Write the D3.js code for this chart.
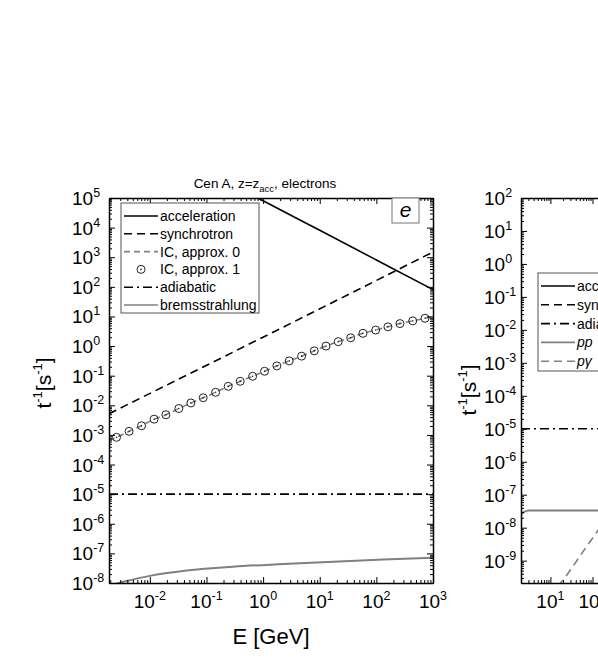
<!DOCTYPE html>
<html>
<head>
<meta charset="utf-8">
<script src="https://cdn.jsdelivr.net/npm/d3@7"></script>
<style>
  body { margin: 0; background: #fff; }
  text { font-family: "Liberation Sans", Arial, sans-serif; fill: #000; }
</style>
</head>
<body>
<svg id="chart" width="598" height="667"></svg>
<script>
// ---- left panel: Cen A electrons ----
const eTicksX = [1e-2, 1e-1, 1e0, 1e1, 1e2, 1e3];
const eTicksY = [1e-8, 1e-7, 1e-6, 1e-5, 1e-4, 1e-3, 1e-2, 1e-1, 1e0, 1e1, 1e2, 1e3, 1e4, 1e5];

const eAccE = [0.5, 1, 10, 100, 1000];
const eAccV = [1.6e5, 8.1e4, 8.1e3, 810, 81];

const eSynE = [0.0019, 1, 1000];
const eSynV = [5.2e-3, 2.0, 1.5e3];

// IC approx. 1 (circles)
const eIcE = [0.00258, 0.0043, 0.00713, 0.0119, 0.0192, 0.0325, 0.053, 0.0875, 0.145, 0.242,
  0.394, 0.653, 1.06, 1.75, 2.89, 4.79, 8.0, 12.9, 21.2, 35.2, 57.9, 97.3, 160, 261, 438, 723];
const eIcV = [8.3e-4, 1.32e-3, 2.04e-3, 3.4e-3, 4.8e-3, 7.8e-3, 0.012, 0.018, 0.0275, 0.0437,
  0.0646, 0.0955, 0.141, 0.214, 0.316, 0.457, 0.69, 1.0, 1.41, 1.9, 2.69, 3.47, 4.47, 5.75, 7.1, 8.7];

// IC approx. 0 (gray dashed, under the circles)
const eIc0E = [0.0019].concat(eIcE, [1000]);
const eIc0V = [6.5e-4].concat(eIcV, [10]);

const eAdiE = [0.0019, 1000];
const eAdiV = [1e-5, 1e-5];

const eBremE = [0.0019, 0.00275, 0.005, 0.01, 0.0447, 0.295, 2.26, 17.4, 132, 1000];
const eBremV = [7.5e-9, 9.8e-9, 1.3e-8, 1.74e-8, 2.63e-8, 3.55e-8, 4.37e-8, 5.25e-8, 6.17e-8, 7.15e-8];

// ---- right panel: protons (cut off by the frame) ----
const pTicksX = [1e1, 1e2, 1e3, 1e4, 1e5, 1e6, 1e7, 1e8];
const pTicksY = [1e-9, 1e-8, 1e-7, 1e-6, 1e-5, 1e-4, 1e-3, 1e-2, 1e-1, 1e0, 1e1, 1e2];

const pAdiE = [2, 1e8];
const pAdiV = [1e-5, 1e-5];

const pPpE = [2, 2.4, 3.0, 10, 100, 300];
const pPpV = [2.5e-8, 3.0e-8, 3.3e-8, 3.3e-8, 3.3e-8, 3.3e-8];

const pPgE = [15, 17.4, 60, 150];
const pPgV = [1.7e-10, 2.1e-10, 1.9e-9, 1.0e-8];

const gray = "#808080";
const svg = d3.select("#chart");

function minorsOf(majors, dom) {
  const out = [];
  [majors[0] / 10].concat(majors).forEach(m => {
    for (let k = 2; k < 10; k++) {
      const v = m * k;
      if (v >= dom[0] && v <= dom[1]) out.push(v);
    }
  });
  return out;
}

function powText(sel, exp) {
  sel.append("tspan").text("10");
  sel.append("tspan").attr("dy", -8).attr("font-size", 12.5).text(exp);
}

function drawFrame(g, x, y, w, h, xMaj, yMaj) {
  const xMin = minorsOf(xMaj, x.domain());
  const yMin = minorsOf(yMaj, y.domain());
  const sides = [
    [d3.axisBottom, x, `translate(0,${h})`, xMaj, xMin],
    [d3.axisTop, x, "translate(0,0)", xMaj, xMin],
    [d3.axisLeft, y, "translate(0,0)", yMaj, yMin],
    [d3.axisRight, y, `translate(${w},0)`, yMaj, yMin]
  ];
  sides.forEach(([fn, sc, tr, maj, min]) => {
    g.append("g").attr("transform", tr)
      .call(fn(sc).tickValues(min).tickSize(-3).tickSizeOuter(0).tickFormat(""));
    const a = g.append("g").attr("transform", tr)
      .call(fn(sc).tickValues(maj.filter(v => v >= sc.domain()[0] && v <= sc.domain()[1]))
        .tickSize(-6).tickSizeOuter(0).tickFormat(""));
    a.select(".domain").attr("stroke-width", 1.5);
  });
  g.selectAll(".tick line").attr("stroke-width", 1);
}

function yTitle(cx, cy) {
  const t = svg.append("text")
    .attr("transform", `translate(${cx},${cy}) rotate(-90)`)
    .attr("text-anchor", "middle")
    .attr("font-size", 21);
  t.append("tspan").text("t");
  t.append("tspan").attr("dy", -9).attr("font-size", 13).text("-1");
  t.append("tspan").attr("dy", 9).text("[s");
  t.append("tspan").attr("dy", -9).attr("font-size", 13).text("-1");
  t.append("tspan").attr("dy", 9).text("]");
}

function panel(opt) {
  const g = svg.append("g").attr("transform", `translate(${opt.left},${opt.top})`);
  const x = d3.scaleLog().domain(opt.xDom).range([0, opt.w]);
  const y = d3.scaleLog().domain(opt.yDom).range([opt.h, 0]);

  g.append("clipPath").attr("id", opt.id)
    .append("rect").attr("width", opt.w).attr("height", opt.h);
  const plot = g.append("g").attr("clip-path", `url(#${opt.id})`);

  const line = d3.line().x(d => x(d[0])).y(d => y(d[1])).curve(d3.curveMonotoneX);
  opt.series.forEach(s => {
    plot.append("path")
      .datum(d3.zip(s.e, s.v))
      .attr("d", line)
      .attr("fill", "none")
      .attr("stroke", s.color)
      .attr("stroke-width", s.width || 1.6)
      .attr("stroke-dasharray", s.dash || null);
  });
  if (opt.circles) {
    const c = opt.circles;
    const pts = plot.selectAll(".pt").data(d3.zip(c.e, c.v)).enter().append("g")
      .attr("class", "pt")
      .attr("transform", d => `translate(${x(d[0])},${y(d[1])})`);
    pts.append("circle").attr("r", 4).attr("fill", "none").attr("stroke", "#222").attr("stroke-width", 1);
    pts.append("circle").attr("r", 0.8).attr("fill", "#222");
  }

  drawFrame(g, x, y, opt.w, opt.h, opt.xTicks, opt.yTicks);

  // tick labels
  opt.xTicks.filter(v => v >= opt.xDom[0] && v <= opt.xDom[1]).forEach(v => {
    const t = g.append("text").attr("x", x(v)).attr("y", opt.h + 25)
      .attr("text-anchor", "middle").attr("font-size", 19);
    powText(t, String(Math.round(Math.log10(v))));
  });
  opt.yTicks.forEach(v => {
    const t = g.append("text").attr("x", -37).attr("y", y(v) + 7)
      .attr("text-anchor", "start").attr("font-size", 19);
    powText(t, String(Math.round(Math.log10(v))));
  });

  // legend
  const L = opt.legend;
  g.append("rect").attr("x", L.x).attr("y", L.y).attr("width", L.w).attr("height", L.h)
    .attr("fill", "#fff").attr("stroke", "#555").attr("stroke-width", 1);
  L.items.forEach((it, i) => {
    const yy = L.y + L.first + i * L.step;
    if (it.circle) {
      g.append("circle").attr("cx", L.x + 20).attr("cy", yy).attr("r", 4)
        .attr("fill", "none").attr("stroke", "#222");
      g.append("circle").attr("cx", L.x + 20).attr("cy", yy).attr("r", 0.8).attr("fill", "#222");
    } else {
      g.append("line").attr("x1", L.x + 3).attr("x2", L.x + 37).attr("y1", yy).attr("y2", yy)
        .attr("stroke", it.color).attr("stroke-width", 1.6)
        .attr("stroke-dasharray", it.dash || null);
    }
    g.append("text").attr("x", L.x + 39).attr("y", yy + 5).attr("font-size", 14)
      .attr("font-style", it.italic ? "italic" : null).text(it.label);
  });
  return { g, x, y };
}

const dash = "8,5";
const dashDot = "9,4,2,4";

const left = panel({
  id: "clipL", left: 109, top: 198, w: 324, h: 385,
  xDom: [0.0019, 1000], yDom: [1e-8, 1e5],
  xTicks: eTicksX, yTicks: eTicksY,
  series: [
    { e: eBremE, v: eBremV, color: gray, width: 2 },
    { e: eIc0E, v: eIc0V, color: gray, dash: "6,4" },
    { e: eAdiE, v: eAdiV, color: "#000", dash: dashDot },
    { e: eSynE, v: eSynV, color: "#000", dash: dash },
    { e: eAccE, v: eAccV, color: "#000" }
  ],
  circles: { e: eIcE, v: eIcV },
  legend: {
    x: 12, y: 5, w: 138, h: 110, first: 13, step: 17.8,
    items: [
      { label: "acceleration", color: "#000" },
      { label: "synchrotron", color: "#000", dash: dash },
      { label: "IC, approx. 0", color: gray, dash: "6,4" },
      { label: "IC, approx. 1", circle: true },
      { label: "adiabatic", color: "#000", dash: dashDot },
      { label: "bremsstrahlung", color: gray }
    ]
  }
});

const right = panel({
  id: "clipR", left: 521, top: 198, w: 324, h: 385,
  xDom: [2, 1e8], yDom: [2.1e-10, 100],
  xTicks: pTicksX, yTicks: pTicksY,
  series: [
    { e: pAdiE, v: pAdiV, color: "#000", dash: dashDot },
    { e: pPpE, v: pPpV, color: gray, width: 2 },
    { e: pPgE, v: pPgV, color: gray, dash: dash }
  ],
  legend: {
    x: 17, y: 75, w: 150, h: 98, first: 13, step: 18.8,
    items: [
      { label: "acceleration", color: "#000" },
      { label: "synchrotron", color: "#000", dash: dash },
      { label: "adiabatic", color: "#000", dash: dashDot },
      { label: "pp", color: gray, italic: true },
      { label: "pγ", color: gray, dash: dash, italic: true }
    ]
  }
});

// "e" tag in the electron panel
left.g.append("rect").attr("x", 283).attr("y", 0).attr("width", 27).attr("height", 25)
  .attr("fill", "#fff").attr("stroke", "#777");
left.g.append("text").attr("x", 296.5).attr("y", 19).attr("text-anchor", "middle")
  .attr("font-size", 21).attr("font-style", "italic").text("e");

// panel title
const title = svg.append("text").attr("x", 265).attr("y", 188).attr("text-anchor", "middle")
  .attr("font-size", 13.5);
title.append("tspan").text("Cen A, z=z");
title.append("tspan").attr("dy", 4).attr("font-size", 9.5).text("acc");
title.append("tspan").attr("dy", -4).text(", electrons");

// axis titles
svg.append("text").attr("x", 271).attr("y", 644).attr("text-anchor", "middle")
  .attr("font-size", 22).text("E [GeV]");
yTitle(51, 383);
yTitle(476, 390);
</script>
</body>
</html>
